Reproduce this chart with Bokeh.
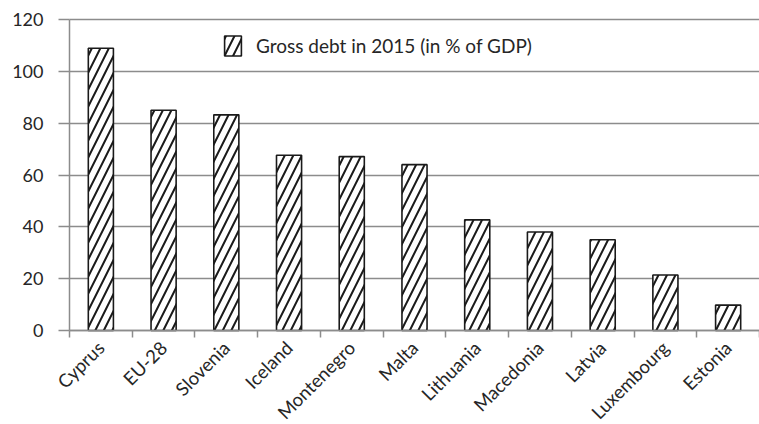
from bokeh.plotting import figure
from bokeh.models import Range1d, FixedTicker, ColumnDataSource, Legend, LegendItem
from bokeh.embed import file_html
from bokeh.resources import INLINE
import math

countries = ["Cyprus", "EU-28", "Slovenia", "Iceland", "Montenegro", "Malta",
             "Lithuania", "Macedonia", "Latvia", "Luxembourg", "Estonia"]
debt = [108.9, 85.0, 83.2, 67.6, 67.1, 64.0, 42.7, 38.0, 35.0, 21.4, 9.8]
y_ticks = [0, 20, 40, 60, 80, 100, 120]
series_name = "Gross debt in 2015 (in % of GDP)"

n = len(countries)
xs = [i + 0.5 for i in range(n)]
src = ColumnDataSource(dict(x=xs, top=debt, name=countries))

FONT = "Lato"
TXT = "#262626"
GRID = "#8c8c8c"

W, H = 759, 424
# plot area (in px): left 69, right 759, top 19, bottom 330
PL, PR, PT, PB = 69, 759, 19, 330
Y_MAX = 120
ypx = (PB - PT) / Y_MAX
xpx = (PR - PL) / n
y_range = Range1d(-(H - PB) / ypx, Y_MAX + PT / ypx)
x_range = Range1d(-PL / xpx, n + (W - PR) / xpx)

p = figure(width=W, height=H, output_backend="svg", toolbar_location=None,
           x_range=x_range, y_range=y_range,
           min_border_left=0, min_border_top=0, min_border_right=0, min_border_bottom=0)
p.outline_line_color = None
p.background_fill_color = "white"
p.border_fill_color = "white"

r = p.vbar(x="x", top="top", width=0.4, bottom=0, source=src,
           fill_color="white", line_color="#1a1a1a", line_width=1.6,
           hatch_pattern="/", hatch_color="#1a1a1a", hatch_weight=2, hatch_scale=17)

# x axis drawn at y = 0
p.xaxis.fixed_location = 0
p.xaxis.bounds = (0, n)
p.xaxis.ticker = FixedTicker(ticks=xs, minor_ticks=list(range(n + 1)))
p.xaxis.major_label_overrides = {x: c for x, c in zip(xs, countries)}
p.xaxis.major_label_orientation = math.pi / 4
p.xaxis.major_tick_line_color = None
p.xaxis.major_tick_out = 0
p.xaxis.major_tick_in = 0
p.xaxis.minor_tick_out = 7
p.xaxis.minor_tick_in = 0
p.xaxis.minor_tick_line_color = GRID
p.xaxis.minor_tick_line_width = 1.5
p.xaxis.axis_line_color = GRID
p.xaxis.axis_line_width = 1.5
p.xaxis.major_label_text_font = FONT
p.xaxis.major_label_text_font_size = "18.5px"
p.xaxis.major_label_text_color = TXT
p.xaxis.major_label_standoff = 7

# y axis drawn at x = 0
p.yaxis.fixed_location = 0
p.yaxis.bounds = (0, Y_MAX)
p.yaxis.ticker = FixedTicker(ticks=y_ticks)
p.yaxis.minor_tick_line_color = None
p.yaxis.major_tick_out = 11
p.yaxis.major_tick_in = 0
p.yaxis.major_tick_line_color = GRID
p.yaxis.major_tick_line_width = 1.5
p.yaxis.axis_line_color = GRID
p.yaxis.axis_line_width = 1.5
p.yaxis.major_label_text_font = FONT
p.yaxis.major_label_text_font_size = "18px"
p.yaxis.major_label_text_color = TXT
p.yaxis.major_label_standoff = 15

p.xgrid.grid_line_color = None
yg = p.ygrid[0]
if "cross_bounds" in yg.properties():
    yg.ticker = FixedTicker(ticks=y_ticks)
    yg.cross_bounds = (0, n)
    yg.grid_line_color = GRID
    yg.grid_line_width = 1.5
else:
    yg.grid_line_color = None
    p.segment(x0=[0] * len(y_ticks), x1=[n] * len(y_ticks), y0=y_ticks, y1=y_ticks,
              line_color=GRID, line_width=1.5, level="underlay")

legend = Legend(items=[LegendItem(label=series_name, renderers=[r])],
                location=(222, H - 58), orientation="horizontal",
                padding=0, margin=0, spacing=0,
                glyph_width=21, glyph_height=25, label_standoff=13,
                label_text_font=FONT, label_text_font_size="19px",
                label_text_color=TXT,
                border_line_color=None, background_fill_alpha=0)
p.add_layout(legend, "center")

open("out.html", "w").write(file_html(p, INLINE))
